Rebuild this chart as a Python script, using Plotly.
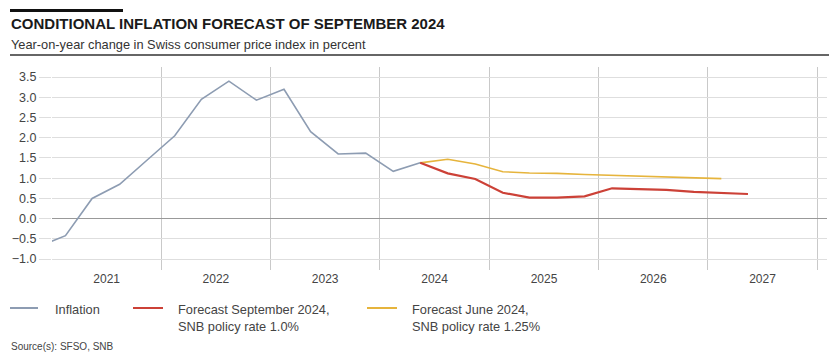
import plotly.graph_objects as go

# Quarter mid-points
infl_dates = ["2020-11-15", "2021-02-15", "2021-05-15", "2021-08-15", "2021-11-15",
              "2022-02-15", "2022-05-15", "2022-08-15", "2022-11-15",
              "2023-02-15", "2023-05-15", "2023-08-15", "2023-11-15",
              "2024-02-15", "2024-05-15"]
infl_values = [-0.70, -0.42, 0.50, 0.85, 1.45, 2.05, 2.95, 3.40, 2.93, 3.20, 2.15, 1.60, 1.62, 1.17, 1.38]

sep_dates = ["2024-05-15", "2024-08-15", "2024-11-15",
             "2025-02-15", "2025-05-15", "2025-08-15", "2025-11-15",
             "2026-02-15", "2026-05-15", "2026-08-15", "2026-11-15",
             "2027-02-15", "2027-05-15"]
sep_values = [1.38, 1.12, 0.98, 0.64, 0.52, 0.52, 0.55, 0.75, 0.73, 0.71, 0.66, 0.63, 0.61]

jun_dates = ["2024-05-15", "2024-08-15", "2024-11-15",
             "2025-02-15", "2025-05-15", "2025-08-15", "2025-11-15",
             "2026-02-15", "2026-05-15", "2026-08-15", "2026-11-15",
             "2027-02-15"]
jun_values = [1.38, 1.47, 1.35, 1.16, 1.13, 1.12, 1.09, 1.07, 1.04, 1.02, 1.00, 0.99]

legend_labels = ["Inflation", "Forecast September 2024,<br>SNB policy rate 1.0%",
                 "Forecast June 2024,<br>SNB policy rate 1.25%"]

C_INFL = "#8d9cb2"
C_SEP = "#cc4137"
C_JUN = "#e6b43c"
FONT = "Liberation Sans"

W, H = 830, 355
L, R, T, B = 52, 3, 67, 85
PW, PH = W - L - R, H - T - B


def px(x):
    return (x - L) / PW


def py(y):
    return (H - B - y) / PH


fig = go.Figure()
fig.add_trace(go.Scatter(x=infl_dates, y=infl_values, mode="lines",
                         line=dict(color=C_INFL, width=1.6), name="Inflation"))
fig.add_trace(go.Scatter(x=jun_dates, y=jun_values, mode="lines",
                         line=dict(color=C_JUN, width=1.6), name="June"))
fig.add_trace(go.Scatter(x=sep_dates, y=sep_values, mode="lines",
                         line=dict(color=C_SEP, width=2.2), name="September"))

shapes = [
    # black bar at top
    dict(type="line", xref="paper", yref="paper", x0=px(10), x1=px(123), y0=py(10.5), y1=py(10.5),
         line=dict(color="#111111", width=3)),
    # rule under subtitle
    dict(type="line", xref="paper", yref="paper", x0=px(10), x1=px(829), y0=py(55), y1=py(55),
         line=dict(color="#333333", width=1.3)),
]
annotations = [
    dict(text="<b>CONDITIONAL INFLATION FORECAST OF SEPTEMBER 2024</b>", xref="paper", yref="paper",
         x=px(9), y=py(24), xanchor="left", yanchor="middle", showarrow=False,
         font=dict(family=FONT, size=15, color="#1a1a1a")),
    dict(text="Year-on-year change in Swiss consumer price index in percent", xref="paper", yref="paper",
         x=px(9), y=py(44), xanchor="left", yanchor="middle", showarrow=False,
         font=dict(family=FONT, size=12.8, color="#333333")),
    dict(text="Source(s): SFSO, SNB", xref="paper", yref="paper",
         x=px(9), y=py(346), xanchor="left", yanchor="middle", showarrow=False,
         font=dict(family=FONT, size=10, color="#444444")),
]

legend_pos = [(10, 38, 53), (133, 163, 176), (367, 397, 410)]
legend_colors = [C_INFL, C_SEP, C_JUN]
for (x0, x1, tx), col, lab in zip(legend_pos, legend_colors, legend_labels):
    shapes.append(dict(type="line", xref="paper", yref="paper", x0=px(x0), x1=px(x1),
                       y0=py(308), y1=py(308), line=dict(color=col, width=2)))
    annotations.append(dict(text=lab, xref="paper", yref="paper", x=px(tx), y=py(299.5),
                            xanchor="left", yanchor="top", align="left", showarrow=False,
                            font=dict(family=FONT, size=12.8, color="#444444")))

fig.update_layout(
    width=W, height=H,
    margin=dict(l=L, r=R, t=T, b=B),
    paper_bgcolor="white", plot_bgcolor="white",
    showlegend=False,
    font=dict(family=FONT, size=12, color="#444444"),
    shapes=shapes, annotations=annotations,
    xaxis=dict(
        type="date", range=["2021-01-01", "2028-02-03"],
        dtick="M12", tick0="2021-01-01", ticklabelmode="period", tickformat="%Y",
        showgrid=True, gridcolor="#c9c9c9", gridwidth=1,
        ticks="", showline=False, zeroline=False,
        tickfont=dict(family=FONT, size=12, color="#444444"),
    ),
    yaxis=dict(
        range=[-1.27, 3.75], dtick=0.5, tick0=0, tickformat=".1f",
        showgrid=True, gridcolor="#dedede", gridwidth=1,
        ticks="outside", ticklen=12, tickcolor="#dedede",
        zeroline=True, zerolinecolor="#999999", zerolinewidth=1.2,
        showline=False,
        tickfont=dict(family=FONT, size=12.5, color="#444444"),
    ),
)

fig.write_html("out.html", config={"displayModeBar": False},
               post_script="document.body.style.margin='0';document.body.style.overflow='hidden';")
